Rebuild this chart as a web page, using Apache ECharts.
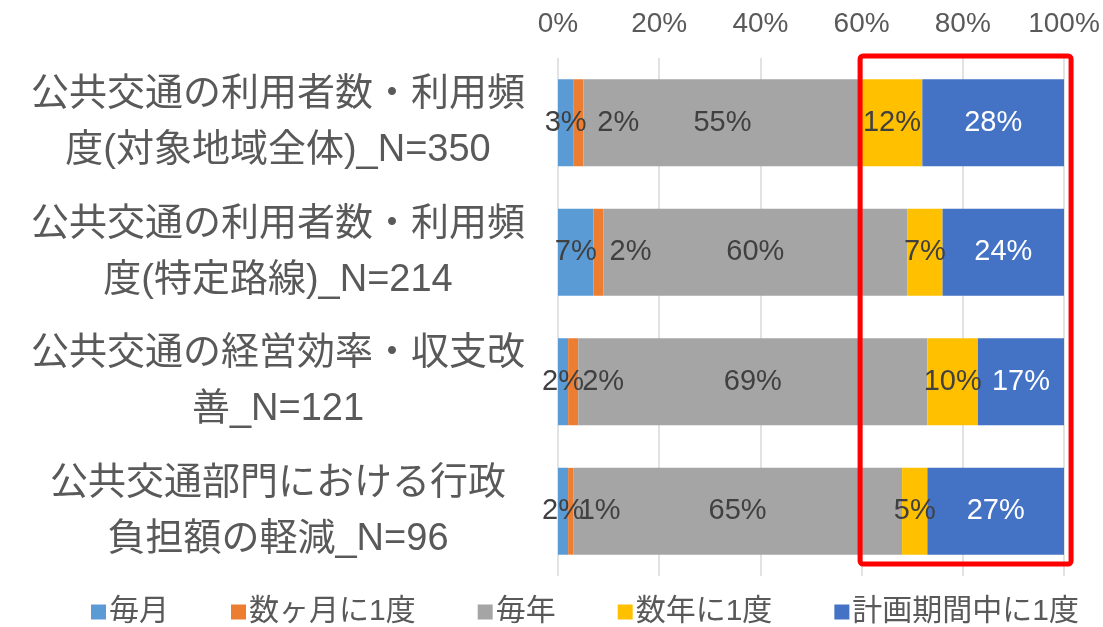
<!DOCTYPE html>
<html>
<head>
<meta charset="utf-8">
<script src="https://cdn.jsdelivr.net/npm/echarts@6/dist/echarts.min.js"></script>
<style>
  html, body { margin: 0; padding: 0; background: #fff; }
  #chart { width: 1103px; height: 627px; }
</style>
</head>
<body>
<div id="chart"></div>
<script>
// ---- data ----
const categories = [
  '公共交通の利用者数・利用頻\n度(対象地域全体)_N=350',
  '公共交通の利用者数・利用頻\n度(特定路線)_N=214',
  '公共交通の経営効率・収支改\n善_N=121',
  '公共交通部門における行政\n負担額の軽減_N=96'
];
const seriesNames = ['毎月', '数ヶ月に1度', '毎年', '数年に1度', '計画期間中に1度'];
const monthly      = [3, 7, 2, 2];
const fewMonths    = [2, 2, 2, 1];
const yearly       = [55, 60, 69, 65];
const fewYears     = [12, 7, 10, 5];
const planPeriod   = [28, 24, 17, 27];
const xTicks = [0, 20, 40, 60, 80, 100];

// ---- style ----
const colors = ['#5B9BD5', '#ED7D31', '#A5A5A5', '#FFC000', '#4472C4'];
const labelColors = ['#404040', '#404040', '#404040', '#404040', '#FFFFFF'];
const orangeLabelShift = [40, 32, 30, 29];
const FONT = "'Liberation Sans', 'Noto Sans CJK JP', sans-serif";
const GRID = { left: 558, right: 39, top: 58, bottom: 51 };

const allValues = [monthly, fewMonths, yearly, fewYears, planPeriod];

const chart = echarts.init(document.getElementById('chart'));

const series = allValues.map((vals, si) => ({
  name: seriesNames[si],
  type: 'bar',
  stack: 'total',
  barCategoryGap: '33%',
  itemStyle: { color: colors[si] },
  label: {
    show: true,
    position: 'inside',
    formatter: p => p.value + '%',
    color: labelColors[si],
    fontSize: 29,
    fontFamily: FONT
  },
  data: vals.map((v, i) => {
    const d = { value: v };
    if (si === 1) d.label = { offset: [orangeLabelShift[i], 0] };
    return d;
  })
}));

chart.setOption({
  animation: false,
  backgroundColor: '#ffffff',
  textStyle: { fontFamily: FONT },
  grid: GRID,
  legend: {
    data: seriesNames,
    left: 86,
    bottom: -5,
    itemWidth: 15,
    itemHeight: 15,
    itemGap: 62,
    icon: 'rect',
    textStyle: { fontSize: 30, color: '#595959', fontFamily: FONT, padding: [0, 0, 0, -2] }
  },
  xAxis: {
    type: 'value',
    position: 'top',
    min: xTicks[0],
    max: xTicks[xTicks.length - 1],
    interval: xTicks[1] - xTicks[0],
    axisLine: { show: false },
    axisTick: { show: false },
    axisLabel: { formatter: '{value}%', fontSize: 28, color: '#595959', margin: 20, fontFamily: FONT },
    splitLine: { lineStyle: { color: '#D9D9D9', width: 1.5 } }
  },
  yAxis: {
    type: 'category',
    inverse: true,
    data: categories,
    axisLine: { show: false },
    axisTick: { show: false },
    axisLabel: {
      fontSize: 38,
      lineHeight: 56,
      color: '#595959',
      align: 'center',
      margin: 558 - 278,
      fontFamily: FONT
    }
  },
  series: series
});

// red highlight rectangle around the 60%–100% region
function drawBox() {
  const x0 = chart.convertToPixel({ xAxisIndex: 0 }, 59.7);
  const x1 = chart.convertToPixel({ xAxisIndex: 0 }, 101.4);
  const y0 = GRID.top - 2;
  const y1 = 627 - GRID.bottom - 12;
  chart.setOption({
    graphic: [{
      type: 'rect',
      z: 100,
      shape: { x: x0, y: y0, width: x1 - x0, height: y1 - y0, r: 3 },
      style: { fill: 'none', stroke: '#FF0000', lineWidth: 5 }
    }]
  });
}
drawBox();
</script>
</body>
</html>
